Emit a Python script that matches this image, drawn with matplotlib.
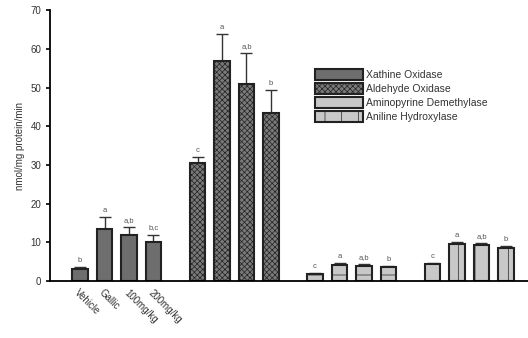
import numpy as np
import matplotlib.pyplot as plt

# donnees
enzymes = ['Xathine Oxidase', 'Aldehyde Oxidase', 'Aminopyrine Demethylase', 'Aniline Hydroxylase']
doses = ['Vehicle', 'Gallic', '100mg/kg', '200mg/kg']
xanthine = [3.0, 13.5, 12.0, 10.0]
xanthine_err = [0.5, 3.0, 2.0, 2.0]
aldehyde = [30.5, 57.0, 51.0, 43.5]
aldehyde_err = [1.5, 7.0, 8.0, 6.0]
aminopyrine = [1.7, 4.2, 3.9, 3.6]
aminopyrine_err = [0.3, 0.4, 0.4, 0.3]
aniline = [4.3, 9.6, 9.4, 8.6]
aniline_err = [0.3, 0.4, 0.4, 0.4]
letters = [['b', 'a', 'a,b', 'b,c'],
           ['c', 'a', 'a,b', 'b'],
           ['c', 'a', 'a,b', 'b'],
           ['c', 'a', 'a,b', 'b']]

series = [xanthine, aldehyde, aminopyrine, aniline]
errors = [xanthine_err, aldehyde_err, aminopyrine_err, aniline_err]
colors = ['#6e6e6e', '#7a7a7a', '#c8c8c8', '#c8c8c8']
hatches = [None, 'xxxxxx', '-', '|']

plt.rcParams['font.family'] = ['Liberation Sans', 'DejaVu Sans']
plt.rcParams['hatch.linewidth'] = 0.5
plt.rcParams['hatch.color'] = '#333333'

fig = plt.figure(figsize=(5.28, 3.38), dpi=100)
ax = fig.add_axes([0.095, 0.169, 0.905, 0.80])

gap = 4.8
for g, (vals, errs) in enumerate(zip(series, errors)):
    x = np.arange(4) + g * gap
    ax.bar(x, vals, width=0.65, color=colors[g], hatch=hatches[g],
           edgecolor='#222222', linewidth=1.5, label=enzymes[g], zorder=2)
    ax.errorbar(x, vals, yerr=[np.zeros(4), errs], fmt='none', ecolor='#333333',
                elinewidth=1.0, capsize=4, capthick=1.0, zorder=1)
    for xi, v, e, t in zip(x, vals, errs, letters[g]):
        ax.text(xi, v + e + 0.8, t, ha='center', va='bottom', fontsize=5.5, color='#555555')

ax.set_xlim(-1.22, 18.3)
ax.set_ylim(0, 70)
ax.set_yticks(range(0, 71, 10))
ax.set_xticks(np.arange(4))
ax.set_xticklabels(doses, rotation=-45, ha='left', rotation_mode='anchor', fontsize=7, color='#333333')
ax.tick_params(axis='x', length=0, pad=5)
ax.tick_params(axis='y', labelsize=7, length=3, width=1.2, labelcolor='#333333')
ax.set_ylabel('nmol/mg protein/min', fontsize=7, color='#333333')
ax.spines['top'].set_visible(False)
ax.spines['right'].set_visible(False)
ax.spines['left'].set_linewidth(1.3)
ax.spines['bottom'].set_linewidth(1.3)

leg = ax.legend(loc='upper left', bbox_to_anchor=(0.545, 0.80), frameon=False, fontsize=7.5,
                handlelength=4.6, handleheight=1.3, handletextpad=0.3, labelspacing=0.25,
                borderaxespad=0)
for t in leg.get_texts():
    t.set_color('#333333')

plt.savefig('out.png', dpi=100)
